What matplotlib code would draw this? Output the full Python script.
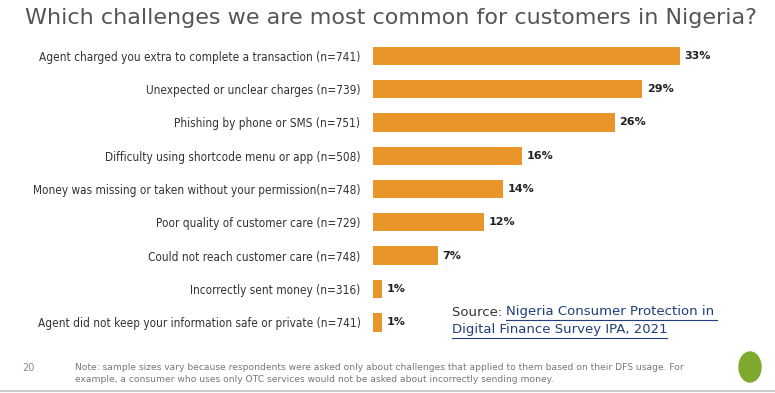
import matplotlib.pyplot as plt
from matplotlib.patches import Ellipse
from matplotlib import font_manager

# data, top to bottom as in the slide
labels = [
    "Agent charged you extra to complete a transaction (n=741)",
    "Unexpected or unclear charges (n=739)",
    "Phishing by phone or SMS (n=751)",
    "Difficulty using shortcode menu or app (n=508)",
    "Money was missing or taken without your permission(n=748)",
    "Poor quality of customer care (n=729)",
    "Could not reach customer care (n=748)",
    "Incorrectly sent money (n=316)",
    "Agent did not keep your information safe or private (n=741)",
]
values = [33, 29, 26, 16, 14, 12, 7, 1, 1]
value_labels = ["33%", "29%", "26%", "16%", "14%", "12%", "7%", "1%", "1%"]

# look for a condensed face, fall back to plain DejaVu
cond = None
for f in font_manager.fontManager.ttflist:
    if "Condensed" in f.fname or "Narrow" in f.fname:
        if "Bold" not in f.fname and "Oblique" not in f.fname and "Italic" not in f.fname:
            cond = f.fname
            break
lab_font = font_manager.FontProperties(fname=cond, size=8.5) if cond else \
    font_manager.FontProperties(family="DejaVu Sans", size=7.5)

W, H = 775, 393
fig = plt.figure(figsize=(W / 100, H / 100), dpi=100)

# axes placed in pixel terms from the reference
ax_left, ax_right = 373, 726
ax_top, ax_bottom = 39, 339
ax = fig.add_axes([ax_left / W, 1 - ax_bottom / H,
                   (ax_right - ax_left) / W, (ax_bottom - ax_top) / H])

ypos = list(range(len(values)))
ax.barh(ypos, values, height=0.55, color="#E8952A", edgecolor="none")
ax.set_ylim(len(values) - 0.5, -0.5)
ax.set_xlim(0, 38)

for y, v, lab in zip(ypos, values, value_labels):
    ax.text(v + 0.5, y, lab, va="center", ha="left", fontsize=8,
            fontweight="bold", color="#222222")

ax.set_yticks(ypos)
ax.set_yticklabels(labels, color="#333333", fontproperties=lab_font)
ax.tick_params(axis="y", length=0, pad=9)
ax.set_xticks([])
for s in ax.spines.values():
    s.set_visible(False)

# title
fig.text(391 / W, 1 - 18 / H, "Which challenges we are most common for customers in Nigeria?",
         ha="center", va="center", fontsize=16, color="#555555")

# source
fig.text(452 / W, 1 - 312 / H, "Source: ", ha="left", va="center",
         fontsize=9.5, color="#333333")
fig.text(506 / W, 1 - 312 / H, "Nigeria Consumer Protection in",
         ha="left", va="center", fontsize=9.5, color="#1F3F7A")
fig.text(452 / W, 1 - 330 / H, "Digital Finance Survey IPA, 2021",
         ha="left", va="center", fontsize=9.5, color="#1F3F7A")
fig.add_artist(plt.Line2D([506 / W, 717 / W], [1 - 320 / H, 1 - 320 / H],
                          color="#1F3F7A", lw=0.8))
fig.add_artist(plt.Line2D([452 / W, 667 / W], [1 - 338 / H, 1 - 338 / H],
                          color="#1F3F7A", lw=0.8))

# note and page number
fig.text(22 / W, 1 - 368 / H, "20", ha="left", va="center", fontsize=7, color="#888888")
fig.text(75 / W, 1 - 367 / H,
         "Note: sample sizes vary because respondents were asked only about challenges that applied to them based on their DFS usage. For",
         ha="left", va="center", fontsize=6.6, color="#777777")
fig.text(75 / W, 1 - 380 / H,
         "example, a consumer who uses only OTC services would not be asked about incorrectly sending money.",
         ha="left", va="center", fontsize=6.6, color="#777777")

# small green globe logo stand-in
fig.add_artist(Ellipse((750 / W, 1 - 367 / H), 22 / W, 30 / H, color="#7DAA2E"))

# grey footer line
fig.add_artist(plt.Line2D([0, 1], [1 - 391 / H, 1 - 391 / H], color="#CCCCCC", lw=1.5))

fig.savefig("out.png", dpi=100)
